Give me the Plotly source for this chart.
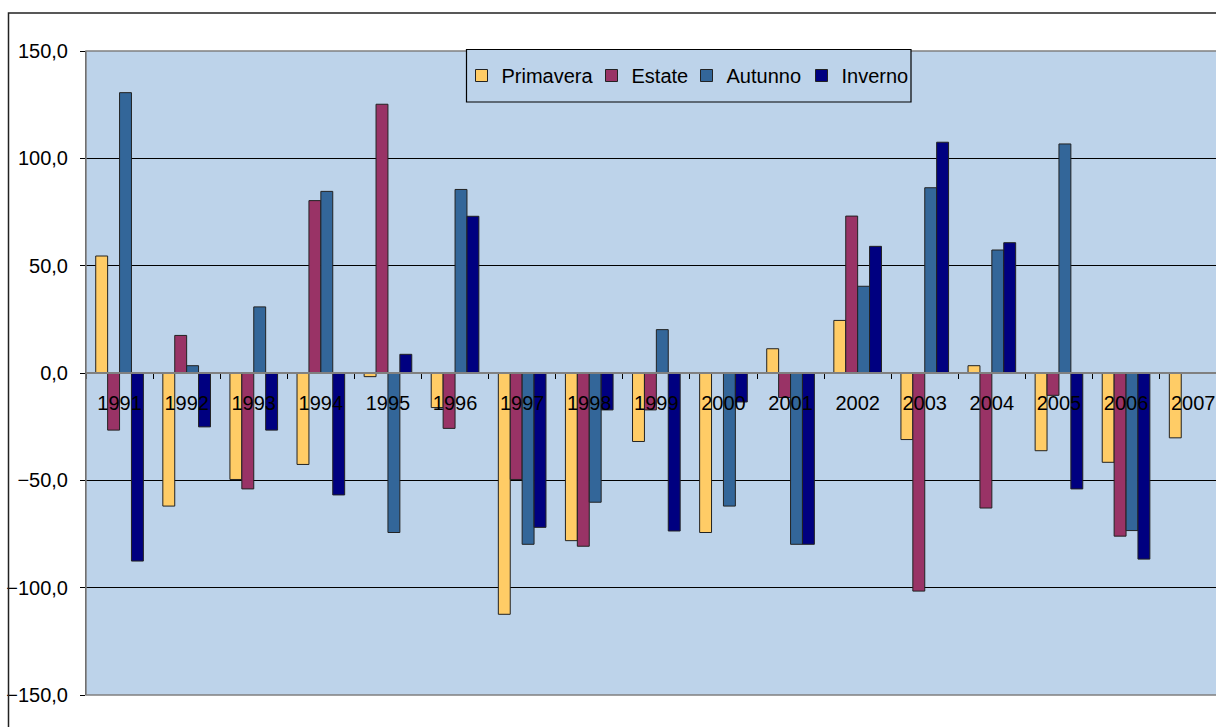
import plotly.graph_objects as go

years = [str(y) for y in range(1991, 2008)]
primavera = [54.5, -62.0, -49.6, -42.6, -1.7, -16.1, -112.4, -78.1, -31.9, -74.3, 11.3, 24.5, -31.0, 3.4, -36.2, -41.6, -30.2]
estate =    [-26.6, 17.5, -54.0, 80.3, 125.2, -25.8, -49.6, -80.7, -17.2, 0.0, -11.4, 73.1, -101.6, -62.9, -10.4, -76.0, None]
autunno =   [130.6, 3.4, 30.8, 84.6, -74.3, 85.5, -79.8, -60.2, 20.2, -62.0, -79.8, 40.4, 86.3, 57.3, 106.7, -73.4, None]
inverno =   [-87.6, -25.1, -26.6, -56.8, 8.7, 73.0, -71.9, -17.2, -73.6, -13.5, -79.8, 59.0, 107.5, 60.7, -54.0, -86.7, None]

series_names = ["Primavera", "Estate", "Autunno", "Inverno"]
series_values = [primavera, estate, autunno, inverno]
series_colors = ["#FFCC66", "#993366", "#336699", "#000080"]
legend_widths = [85, 50, 70, 67]

W, H = 1216, 727
L, T = 86, 51
B = H - 695
R = 0
pw = W - L - R
ph = H - T - B
catw = 67.1

def px_x(sx):
    return (sx - L) / pw

def px_y(sy):
    return 1 - (sy - T) / ph

fig = go.Figure()
for name, vals, col, lw in zip(series_names, series_values, series_colors, legend_widths):
    fig.add_trace(go.Bar(
        x=years, y=vals, name=name, legendwidth=lw,
        marker=dict(color=col, line=dict(color="#222222", width=1)),
    ))

font = "Liberation Sans, Arial, sans-serif"
bg = "#BDD3EA"

fig.update_layout(
    width=W, height=H,
    margin=dict(l=L, r=R, t=T, b=B, pad=0),
    paper_bgcolor="white",
    plot_bgcolor=bg,
    separators=",.",
    barmode="group",
    bargap=0.29,
    bargroupgap=0,
    font=dict(family=font, size=20, color="black"),
    showlegend=True,
    legend=dict(
        orientation="h",
        x=px_x(461.5), y=px_y(75.5),
        xanchor="left", yanchor="middle",
        bgcolor="rgba(0,0,0,0)",
        borderwidth=0,
        font=dict(family=font, size=20, color="black"),
    ),
    xaxis=dict(
        type="category",
        range=[-0.5, -0.5 + pw / catw],
        anchor="free", position=0.5,
        showline=True, linecolor="#808080", linewidth=1.5,
        ticks="outside", ticklen=5, tickcolor="black", tickwidth=1,
        tickson="boundaries",
        showgrid=False, zeroline=False,
        ticklabelstandoff=12,
        tickfont=dict(family=font, size=20, color="black"),
    ),
    yaxis=dict(
        range=[-150, 150],
        tickvals=[-150, -100, -50, 0, 50, 100, 150],
        tickformat=".1f",
        showgrid=True, gridcolor="black", gridwidth=1,
        zeroline=False,
        showline=True, linecolor="#404040", linewidth=1,
        ticks="outside", ticklen=5, tickcolor="black",
        ticklabelstandoff=8,
        tickfont=dict(family=font, size=20, color="black"),
    ),
    shapes=[
        dict(type="rect", xref="paper", yref="paper", x0=0, x1=1.05, y0=0, y1=1,
             line=dict(color="#808080", width=1.5), fillcolor="rgba(0,0,0,0)", layer="above"),
        dict(type="rect", xref="paper", yref="paper",
             x0=px_x(8.5), x1=1.1, y0=-0.2, y1=px_y(13),
             line=dict(color="#222222", width=1.5), fillcolor="rgba(0,0,0,0)", layer="above"),
        dict(type="rect", xref="paper", yref="paper",
             x0=px_x(466.5), x1=px_x(911), y0=px_y(102), y1=px_y(49.5),
             line=dict(color="black", width=1.2), fillcolor=bg, layer="above"),
    ],
)

fig.write_html(
    "out.html",
    config={"displayModeBar": False},
    post_script="document.body.style.margin='0px';document.body.style.overflow='hidden';",
)
